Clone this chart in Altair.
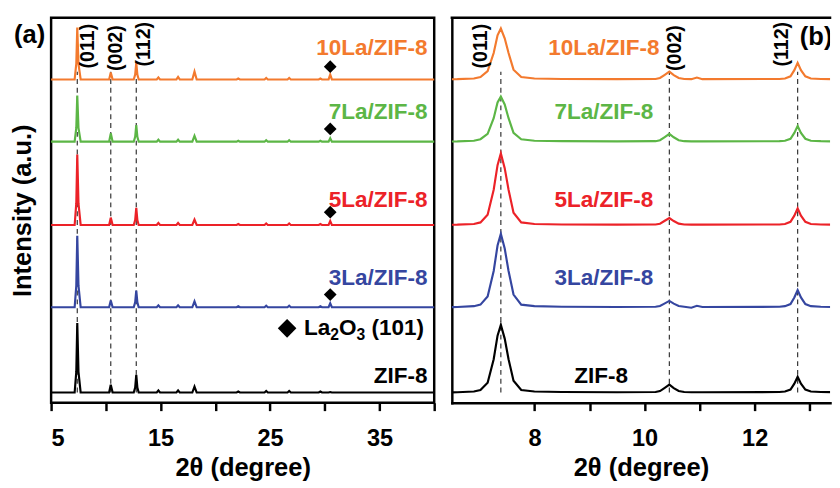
import altair as alt
import pandas as pd

FONT = "Liberation Sans"

SERIES = ["ZIF-8", "3La/ZIF-8", "5La/ZIF-8", "7La/ZIF-8", "10La/ZIF-8"]
COLORS = ["#000000", "#3546A0", "#EC2228", "#5CB646", "#F37A2E"]
OFFSETS = [10.5, 97.5, 181.5, 266.5, 330.0]

# ---- panel (a): wide 2-theta range ----
LEFT_X = [5.0, 7.15, 7.3, 7.39, 7.5, 7.7, 10.3, 10.45, 10.62, 12.55, 12.68, 12.78, 12.88, 13.0,
          14.65, 14.8, 14.95, 16.45, 16.6, 16.75, 17.9, 18.1, 18.3, 21.95, 22.1, 22.25,
          24.5, 24.65, 24.8, 26.6, 26.75, 26.9, 29.45, 29.6, 29.75, 30.35, 30.5, 30.65, 40.0]
LEFT_ZIF8 = [0, 0, 21, 71, 21, 0, 0, 8, 0, 0, 5, 18, 5, 0, 0, 2, 0, 0, 2, 0, 0, 6, 0, 0, 1, 0,
             0, 1.5, 0, 0, 1.5, 0, 0, 1, 0, 0, 0.5, 0, 0]
LEFT_3LA = [0, 0, 22, 73, 22, 0, 0, 7, 0, 0, 5, 17, 5, 0, 0, 2, 0, 0, 2, 0, 0, 6, 0, 0, 1, 0,
            0, 1.5, 0, 0, 1.5, 0, 0, 1, 0, 0, 4, 0, 0]
LEFT_5LA = [0, 0, 22, 72, 22, 0, 0, 7.5, 0, 0, 5, 17.5, 5, 0, 0, 2, 0, 0, 2, 0, 0, 5.5, 0, 0, 1, 0,
            0, 1.5, 0, 0, 1.5, 0, 0, 1, 0, 0, 4, 0, 0]
LEFT_7LA = [0, 0, 14, 47, 14, 0, 0, 8.5, 0, 0, 5, 17, 5, 0, 0, 2, 0, 0, 2, 0, 0, 6, 0, 0, 1, 0,
            0, 1.5, 0, 0, 1.5, 0, 0, 1, 0, 0, 3.5, 0, 0]
LEFT_10LA = [0, 0, 16, 53, 16, 0, 0, 7, 0, 0, 5, 17, 5, 0, 0, 2, 0, 0, 2.5, 0, 0, 8, 0, 0, 1, 0,
             0, 1.5, 0, 0, 1.5, 0, 0, 1, 0, 0, 5, 0, 0]

# ---- panel (b): zoom on the low-angle reflections ----
RIGHT_X = [6.5, 6.6, 6.9, 7.02, 7.15, 7.26, 7.33, 7.39, 7.46, 7.53, 7.62, 7.76, 8.0, 8.5, 9.5,
           10.2, 10.28, 10.36, 10.45, 10.53, 10.62, 10.72, 10.85, 10.95, 11.05,
           12.45, 12.55, 12.65, 12.72, 12.78, 12.84, 12.92, 13.02, 13.2, 13.4]
RIGHT_ZIF8 = [0.2, 0.3, 1, 2.5, 10, 34, 58, 69, 55, 34, 12, 2.5, 1, 0.5, 0.3,
              0.5, 1.5, 4.5, 8, 4.5, 1.5, 0.5, 0.3, 0.3, 0.3,
              0.5, 1, 3, 9, 16, 9, 3, 1, 0.5, 0.3]
RIGHT_3LA = [0.2, 0.3, 1.1, 2.7, 11, 37, 63, 75, 60, 37, 13, 2.7, 1.1, 0.5, 0.3,
             0.5, 1.3, 3.7, 6.5, 3.7, 1.3, 0.5, -0.5, 1.5, 0.3,
             0.5, 1.1, 3.3, 10, 17.5, 10, 3.3, 1.1, 0.5, 0.3]
RIGHT_5LA = [0.2, 0.3, 1, 2.6, 10.5, 36, 61, 73, 58, 36, 12.5, 2.6, 1, 0.5, 0.3,
             0.5, 1.3, 4, 7, 4, 1.3, 0.5, 0.3, 0.5, 0.3,
             0.5, 1, 3.2, 9.5, 17, 9.5, 3.2, 1, 0.5, 0.3]
RIGHT_7LA = [0.2, 0.3, 1, 2.5, 8, 24, 40, 46, 38, 24, 9, 2.5, 1, 0.5, 0.3,
             0.5, 1.5, 4.5, 8, 4.5, 1.5, 0.5, 0.3, 0.3, 0.3,
             0.5, 1, 3, 9, 16, 9, 3, 1, 0.5, 0.3]
RIGHT_10LA = [0.2, 0.3, 1, 2.5, 8.5, 27, 45, 52, 42, 27, 10, 2.5, 1, 0.5, 0.3,
              0.5, 1.5, 4.5, 8, 4.5, 1.5, 0.5, 0.3, 2, 0.3,
              0.5, 1, 3.2, 9.5, 17, 9.5, 3.2, 1, 0.5, 0.3]

REFLECTIONS = [7.39, 10.45, 12.78]
MILLER = ["(011)", "(002)", "(112)"]
LA2O3_PEAK = 30.5

# annotation placement
LABEL_Y = [27, 127, 207, 297, 362]
MILLER_LEFT_X = [8.39, 10.98, 13.48]
MILLER_RIGHT_X = [7.03, 10.55, 12.5]
MILLER_Y = [364, 362, 366]

W_L, W_R, H = 391, 386, 393
XL_DOMAIN = [5, 40]
XR_DOMAIN = [6.5, 6.5 + W_R / 56.2]
Y_DOMAIN = [0, H]


def curves(xs, ys_list):
    rows = []
    for name, off, ys in zip(SERIES, OFFSETS, ys_list):
        for x, v in zip(xs, ys):
            rows.append({"x": x, "y": off + v, "series": name})
    return pd.DataFrame(rows)


left_df = curves(LEFT_X, [LEFT_ZIF8, LEFT_3LA, LEFT_5LA, LEFT_7LA, LEFT_10LA])
right_df = curves(RIGHT_X, [RIGHT_ZIF8, RIGHT_3LA, RIGHT_5LA, RIGHT_7LA, RIGHT_10LA])

dash_df = pd.DataFrame({"x": REFLECTIONS, "y": [OFFSETS[0]] * 3, "y2": [OFFSETS[-1] + 8] * 3})
diam_df = pd.DataFrame({"x": [LA2O3_PEAK] * 4, "y": [o + 13 for o in OFFSETS[1:]]})
color = alt.Color("series:N", scale=alt.Scale(domain=SERIES, range=COLORS), legend=None)

Y_SCALE = alt.Scale(domain=Y_DOMAIN, nice=False, zero=False)

# ---------------- left panel ----------------
XL = alt.X("x:Q", scale=alt.Scale(domain=XL_DOMAIN, nice=False, zero=False),
           axis=alt.Axis(values=list(range(5, 41, 5)),
                         labelExpr="datum.value % 10 == 5 ? datum.label : ''",
                         tickSize=8, tickWidth=2.5, tickColor="black", domain=False,
                         labelFontSize=24, titleFontSize=26, labelPadding=17, titlePadding=4,
                         labelOverlap=False, title="2θ (degree)"))
YL = alt.Y("y:Q", scale=Y_SCALE,
           axis=alt.Axis(title="Intensity (a.u.)", labels=False, ticks=False, domain=False,
                         titleFontSize=26, titlePadding=16))

l_dash = alt.Chart(dash_df).mark_rule(color="#333333", strokeWidth=1.2, strokeDash=[5, 4]).encode(
    x=XL, y=YL, y2="y2:Q")
l_lines = alt.Chart(left_df).mark_line(strokeWidth=2.2).encode(x=XL, y=YL, color=color)
l_diam = alt.Chart(diam_df).mark_point(shape="diamond", filled=True, color="black",
                                       size=169, opacity=1).encode(x=XL, y=YL)
l_lab_df = pd.DataFrame({"x": [39.4] * 5, "y": LABEL_Y, "series": SERIES})
l_labels = alt.Chart(l_lab_df).mark_text(align="right", baseline="middle", fontSize=23,
                                          fontWeight="bold", font=FONT).encode(
    x=XL, y=YL, text="series:N", color=color)
l_mil_df = pd.DataFrame({"x": MILLER_LEFT_X, "y": MILLER_Y, "t": MILLER})
l_miller = alt.Chart(l_mil_df).mark_text(angle=270, align="center", baseline="middle",
                                         fontSize=20, fontWeight="bold", font=FONT,
                                         color="black").encode(x=XL, y=YL, text="t:N")

# legend: diamond + "La2O3 (101)" with real subscripts
LEG_X, LEG_Y = 26.56, 76
LEG_TEXT_X = 28.1
leg_parts = pd.DataFrame({
    "t": ["La", "2", "O", "3", "(101)"],
    "x": [LEG_TEXT_X] * 5, "y": [LEG_Y] * 5,
})
leg_dx = [0, 26.8, 35.7, 53.6, 69.0]
leg_size = [23, 16, 23, 16, 23]
leg_dy = [0, 7, 0, 7, 0]
l_leg_d = alt.Chart(pd.DataFrame({"x": [LEG_X], "y": [LEG_Y]})).mark_point(
    shape="diamond", filled=True, color="black", size=361, opacity=1).encode(x=XL, y=YL)
leg_layers = []
for i in range(5):
    leg_layers.append(
        alt.Chart(leg_parts.iloc[[i]]).mark_text(
            align="left", baseline="middle", fontSize=leg_size[i], fontWeight="bold",
            font=FONT, color="black", dx=leg_dx[i], dy=leg_dy[i]).encode(x=XL, y=YL, text="t:N"))

l_tag = alt.Chart(pd.DataFrame({"t": ["(a)"]})).mark_text(
    align="center", baseline="middle", fontSize=26, fontWeight="bold", font=FONT,
    color="black").encode(x=alt.value(-22), y=alt.value(18), text="t:N")

left = alt.layer(l_dash, l_lines, l_diam, l_labels, l_miller, l_leg_d, *leg_layers, l_tag).properties(
    width=W_L, height=H, view=alt.ViewBackground(stroke="black", strokeWidth=2.5))

# ---------------- right panel ----------------
XR = alt.X("x:Q", scale=alt.Scale(domain=XR_DOMAIN, nice=False, zero=False),
           axis=alt.Axis(values=[8, 9, 10, 11, 12, 13],
                         labelExpr="datum.value % 2 == 0 ? datum.label : ''",
                         tickSize=8, tickWidth=2.5, tickColor="black",
                         domain=True, domainWidth=2.5, domainColor="black", domainCap="square",
                         labelFontSize=24, titleFontSize=26, labelPadding=17, titlePadding=4,
                         labelOverlap=False, title="2θ (degree)"))
YR = alt.Y("y:Q", scale=Y_SCALE,
           axis=alt.Axis(title=None, labels=False, ticks=False, domain=True,
                         domainWidth=2.5, domainColor="black", domainCap="square"))

r_dash = alt.Chart(dash_df).mark_rule(color="#333333", strokeWidth=1.2, strokeDash=[5, 4]).encode(
    x=XR, y=YR, y2="y2:Q")
r_lines = alt.Chart(right_df).mark_line(strokeWidth=2.2, clip=True).encode(x=XR, y=YR, color=color)
r_lab_df = pd.DataFrame({"x": [9.21, 9.26, 9.26, 9.26, 9.26], "y": LABEL_Y, "series": SERIES})
r_labels = alt.Chart(r_lab_df).mark_text(align="center", baseline="middle", fontSize=23,
                                          fontWeight="bold", font=FONT).encode(
    x=XR, y=YR, text="series:N", color=color)
r_mil_df = pd.DataFrame({"x": MILLER_RIGHT_X, "y": MILLER_Y, "t": MILLER})
r_miller = alt.Chart(r_mil_df).mark_text(angle=270, align="center", baseline="middle",
                                         fontSize=20, fontWeight="bold", font=FONT,
                                         color="black").encode(x=XR, y=YR, text="t:N")
r_tag_df = pd.DataFrame({"x": [12.82], "y": [373], "t": ["(b)"]})
r_tag = alt.Chart(r_tag_df).mark_text(align="left", baseline="middle", fontSize=26,
                                      fontWeight="bold", font=FONT, color="black",
                                      clip=True).encode(x=XR, y=YR, text="t:N")
r_top = alt.Chart(pd.DataFrame({"a": [0]})).mark_rule(
    color="black", strokeWidth=2.5, strokeCap="square").encode(
    x=alt.value(0), x2=alt.value(W_R), y=alt.value(0))

right = alt.layer(r_dash, r_lines, r_labels, r_miller, r_tag, r_top).properties(
    width=W_R, height=H, view=alt.ViewBackground(stroke=None))

chart = alt.hconcat(left, right, spacing=10).properties(
    padding={"left": 0, "top": 3, "right": 0, "bottom": 0}
).configure(font=FONT).configure_axis(
    labelFont=FONT, titleFont=FONT, labelFontWeight="bold", titleFontWeight="bold",
    labelColor="black", titleColor="black", grid=False
).configure_view(stroke=None)

chart.save("out.html", embed_options={"renderer": "svg", "actions": False})
